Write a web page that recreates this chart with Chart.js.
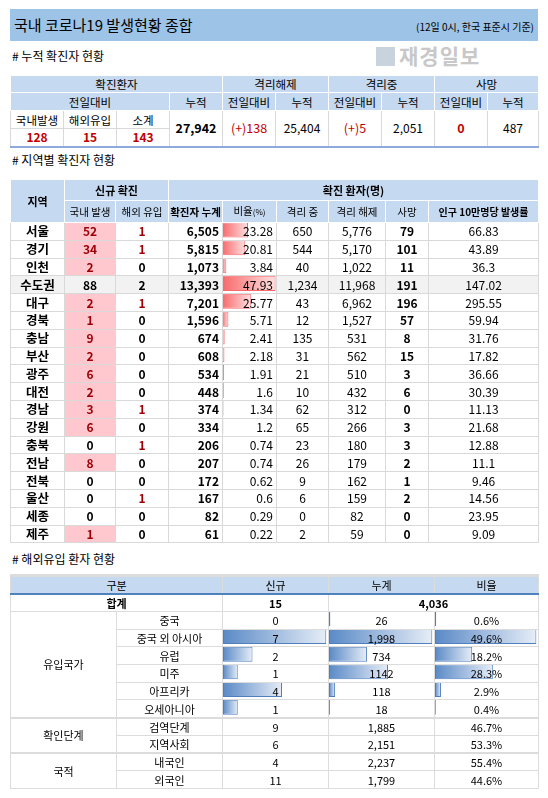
<!DOCTYPE html>
<html>
<head>
<meta charset="utf-8">
<script src="https://cdn.jsdelivr.net/npm/chart.js@4"></script>
<style>
  body { margin: 0; background: #fff; font-family: "Noto Sans CJK KR", sans-serif; color: #000; }
  #page { position: relative; width: 548px; height: 798px; overflow: hidden; }
  .abs { position: absolute; }
  .title { left: 10px; top: 9px; width: 528px; height: 32px; background: #9dc3e6; }
  .title .main { position: absolute; left: 4px; top: 5px; font-size: 15px; }
  .title .sub { position: absolute; right: 4px; top: 10px; font-size: 10px; }
  .mark { left: 376px; top: 40px; font-size: 21px; font-weight: bold; color: #c8c8c8; letter-spacing: 1px; }
  .mark span { display: inline-block; width: 19px; height: 19px; background: #c9d3de; margin-right: 4px; vertical-align: -2px; }
  .sec { left: 12px; font-size: 12px; }
  table { border-collapse: collapse; table-layout: fixed; position: absolute; font-size: 11.5px; }
  td { padding: 0; text-align: center; white-space: nowrap; overflow: hidden; border: 1px solid #d9d9d9; line-height: 14px; }
  .hd td { background: #c5d9f1; border-color: #fff; }
  .b { font-weight: bold; }
  .red { color: #c00000; }
  .dred { color: #9c0006; }
  .pink { background: #ffc7ce; }
  .r { text-align: right; padding-right: 3px; }
  .tbar { border-top: 3px solid #4f81bd; }
  .bbar { border-bottom: 2px solid #8eaadb; }
  .cv { position: absolute; }
  .gray td { background: #f2f2f2; }
  #t2 td.tr, #t3 td.tr { background: transparent; }
  #t2 { font-size: 12px; }
  #t3 { font-size: 11px; }
  #t3 td { border-color: #dcdcdc; }
  .grp td { border-top: 2px solid #a6a6a6; }
</style>
</head>
<body>
<div id="page">
  <div class="abs title"><div class="main">국내 코로나19 발생현황 종합</div><div class="sub">(12일 0시, 한국 표준시 기준)</div></div>
  <div class="abs mark"><span></span>재경일보</div>
  <div class="abs sec" style="top:47px"># 누적 확진자 현황</div>
  <table id="t1" style="left:10px; top:73px; width:528px;"></table>
  <div class="abs sec" style="top:151px"># 지역별 확진자 현황</div>
  <div class="cv" style="left:222px; top:221px; width:54px; height:321px;"><canvas id="cRatio"></canvas></div>
  <table id="t2" style="left:10px; top:177px; width:528px;"></table>
  <div class="abs sec" style="top:550px"># 해외유입 환자 현황</div>
  <div class="cv" style="left:223px; top:610px; width:104px; height:106px;"><canvas id="cNew"></canvas></div>
  <div class="cv" style="left:329px; top:610px; width:104px; height:106px;"><canvas id="cCum"></canvas></div>
  <div class="cv" style="left:435px; top:610px; width:103px; height:106px;"><canvas id="cPct"></canvas></div>
  <table id="t3" style="left:10px; top:574px; width:528px;"></table>
</div>
<script>
// 누적 확진자 현황
const dailyDomestic = 128, dailyImported = 15, dailySubtotal = 143;
const totalConfirmed = "27,942";
const releasedDelta = "(+)138", releasedTotal = "25,404";
const isolatedDelta = "(+)5", isolatedTotal = "2,051";
const deathDelta = "0", deathTotal = "487";

// 지역별 확진자 현황
const regions = ["서울", "경기", "인천", "수도권", "대구", "경북", "충남", "부산", "광주", "대전", "경남", "강원", "충북", "전남", "전북", "울산", "세종", "제주"];
const newDomestic = [52, 34, 2, 88, 2, 1, 9, 2, 6, 2, 3, 6, 0, 8, 0, 0, 0, 1];
const newImported = [1, 1, 0, 2, 1, 0, 0, 0, 0, 0, 1, 0, 1, 0, 0, 1, 0, 0];
const cumulative = ["6,505", "5,815", "1,073", "13,393", "7,201", "1,596", "674", "608", "534", "448", "374", "334", "206", "207", "172", "167", "82", "61"];
const ratioPct = [23.28, 20.81, 3.84, 47.93, 25.77, 5.71, 2.41, 2.18, 1.91, 1.6, 1.34, 1.2, 0.74, 0.74, 0.62, 0.6, 0.29, 0.22];
const isolating = ["650", "544", "40", "1,234", "43", "12", "135", "31", "21", "10", "62", "65", "23", "26", "9", "6", "0", "2"];
const released = ["5,776", "5,170", "1,022", "11,968", "6,962", "1,527", "531", "562", "510", "432", "312", "266", "180", "179", "162", "159", "82", "59"];
const deaths = [79, 101, 11, 191, 196, 57, 8, 15, 3, 6, 0, 3, 3, 2, 1, 2, 0, 0];
const per100k = ["66.83", "43.89", "36.3", "147.02", "295.55", "59.94", "31.76", "17.82", "36.66", "30.39", "11.13", "21.68", "12.88", "11.1", "9.46", "14.56", "23.95", "9.09"];

// 해외유입 환자 현황
const originLabels = ["중국", "중국 외 아시아", "유럽", "미주", "아프리카", "오세아니아"];
const originNew = [0, 7, 2, 1, 4, 1];
const originCum = ["26", "1,998", "734", "1142", "118", "18"];
const originCumValues = [26, 1998, 734, 1142, 118, 18];
const originPct = [0.6, 49.6, 18.2, 28.3, 2.9, 0.4];
const stageLabels = ["검역단계", "지역사회"];
const stageNew = [9, 6];
const stageCum = ["1,885", "2,151"];
const stagePct = ["46.7%", "53.3%"];
const nationLabels = ["내국인", "외국인"];
const nationNew = [4, 11];
const nationCum = ["2,237", "1,799"];
const nationPct = ["55.4%", "44.6%"];
const importedTotalNew = 15, importedTotalCum = "4,036";

// ---- table 1
const cols10 = '<colgroup>' + '<col style="width:53px">'.repeat(9) + '<col style="width:51px"></colgroup>';
document.getElementById("t1").innerHTML = cols10 +
  '<tr class="hd" style="height:18px"><td colspan="4" class="tbar">확진환자</td><td colspan="2" class="tbar">격리해제</td><td colspan="2" class="tbar">격리중</td><td colspan="2" class="tbar">사망</td></tr>' +
  '<tr class="hd" style="height:18px"><td colspan="3">전일대비</td><td>누적</td><td>전일대비</td><td>누적</td><td>전일대비</td><td>누적</td><td>전일대비</td><td>누적</td></tr>' +
  '<tr style="height:18px"><td>국내발생</td><td>해외유입</td><td>소계</td>' +
  '<td rowspan="2" class="b bbar" style="font-size:12.5px">' + totalConfirmed + '</td>' +
  '<td rowspan="2" class="red bbar" style="font-size:12.5px">' + releasedDelta + '</td><td rowspan="2" class="bbar" style="font-size:12px">' + releasedTotal + '</td>' +
  '<td rowspan="2" class="red bbar" style="font-size:12.5px">' + isolatedDelta + '</td><td rowspan="2" class="bbar" style="font-size:12px">' + isolatedTotal + '</td>' +
  '<td rowspan="2" class="red b bbar" style="font-size:12.5px">' + deathDelta + '</td><td rowspan="2" class="bbar" style="font-size:12px">' + deathTotal + '</td></tr>' +
  '<tr style="height:18px"><td class="red b bbar" style="font-size:12px">' + dailyDomestic + '</td><td class="red b bbar" style="font-size:12px">' + dailyImported + '</td><td class="red b bbar" style="font-size:12px">' + dailySubtotal + '</td></tr>';

// ---- table 2
let h2 = '<colgroup><col style="width:54px"><col style="width:51px"><col style="width:53px"><col style="width:54px"><col style="width:54px"><col style="width:52px"><col style="width:57px"><col style="width:43px"><col style="width:110px"></colgroup>';
h2 += '<tr class="hd" style="height:22px;font-size:11px"><td rowspan="2" class="tbar b">지역</td><td colspan="2" class="tbar b">신규 확진</td><td colspan="6" class="tbar b">확진 환자(명)</td></tr>';
h2 += '<tr class="hd" style="height:22px;font-size:10.5px"><td>국내 발생</td><td>해외 유입</td><td class="b">확진자 누계</td><td>비율<span style="font-size:8px">(%)</span></td><td>격리 중</td><td>격리 해제</td><td>사망</td><td class="b" style="font-size:10px">인구 10만명당 발생률</td></tr>';
regions.forEach((r, i) => {
  const gray = r === "수도권" ? ' class="gray" style="height:17.8px"' : ' style="height:17.8px"';
  const d = newDomestic[i], m = newImported[i];
  const dCls = (d > 0 && r !== "수도권") ? "pink dred b" : "b";
  const mCls = (m > 0 && r !== "수도권") ? "dred b" : "b";
  h2 += '<tr' + gray + '><td class="b" style="font-size:12.5px">' + r + '</td>' +
    '<td class="' + dCls + '">' + d + '</td><td class="' + mCls + '">' + m + '</td>' +
    '<td class="b r">' + cumulative[i] + '</td><td class="r tr">' + ratioPct[i] + '</td>' +
    '<td>' + isolating[i] + '</td><td>' + released[i] + '</td><td class="b">' + deaths[i] + '</td><td>' + per100k[i] + '</td></tr>';
});
document.getElementById("t2").innerHTML = h2;

// ---- table 3
let h3 = '<colgroup><col style="width:106px"><col style="width:106px"><col style="width:106px"><col style="width:106px"><col style="width:104px"></colgroup>';
h3 += '<tr class="hd" style="height:18px"><td colspan="2" class="tbar">구분</td><td class="tbar">신규</td><td class="tbar">누계</td><td class="tbar">비율</td></tr>';
h3 += '<tr style="height:18px"><td colspan="2" class="b" style="border-top:2px solid #4f81bd">합계</td><td class="b" style="border-top:2px solid #4f81bd">' + importedTotalNew + '</td><td colspan="2" class="b" style="border-top:2px solid #4f81bd">' + importedTotalCum + '</td></tr>';
originLabels.forEach((l, i) => {
  h3 += '<tr style="height:17.7px">' + (i === 0 ? '<td rowspan="6">유입국가</td>' : '') +
    '<td>' + l + '</td><td class="tr">' + originNew[i] + '</td><td class="tr">' + originCum[i] + '</td><td class="tr">' + originPct[i] + '%</td></tr>';
});
stageLabels.forEach((l, i) => {
  h3 += '<tr style="height:17.7px"' + (i === 0 ? ' class="grp"' : '') + '>' + (i === 0 ? '<td rowspan="2">확인단계</td>' : '') +
    '<td>' + l + '</td><td>' + stageNew[i] + '</td><td>' + stageCum[i] + '</td><td>' + stagePct[i] + '</td></tr>';
});
nationLabels.forEach((l, i) => {
  h3 += '<tr style="height:17.7px"' + (i === 0 ? ' class="grp"' : '') + '>' + (i === 0 ? '<td rowspan="2">국적</td>' : '') +
    '<td>' + l + '</td><td>' + nationNew[i] + '</td><td>' + nationCum[i] + '</td><td>' + nationPct[i] + '</td></tr>';
});
document.getElementById("t3").innerHTML = h3;

// ---- data bars
function barGradient(strong, light) {
  return function(ctx) {
    const chart = ctx.chart;
    const xs = chart.scales.x;
    if (!xs || !ctx.parsed) return strong;
    const x0 = xs.getPixelForValue(0);
    const x1 = xs.getPixelForValue(ctx.parsed.x);
    if (!isFinite(x0) || !isFinite(x1) || x1 - x0 < 1) return strong;
    const g = chart.ctx.createLinearGradient(x0, 0, x1, 0);
    g.addColorStop(0, strong);
    g.addColorStop(1, light);
    return g;
  };
}

function dataBars(canvasId, labels, values, max, strong, light, border, thickness) {
  const ctx = document.getElementById(canvasId).getContext("2d");
  new Chart(ctx, {
    type: "bar",
    data: {
      labels: labels,
      datasets: [{
        data: values,
        backgroundColor: barGradient(strong, light),
        borderColor: border,
        borderWidth: 1,
        borderSkipped: false,
        categoryPercentage: 1,
        barPercentage: thickness
      }]
    },
    options: {
      indexAxis: "y",
      animation: false,
      responsive: true,
      maintainAspectRatio: false,
      layout: { padding: 0 },
      plugins: { legend: { display: false }, tooltip: { enabled: false } },
      scales: {
        x: { display: false, min: 0, max: max },
        y: { display: false }
      }
    }
  });
}

dataBars("cRatio", regions, ratioPct, 48.3, "#f8696b", "#fde0e0", "#f8696b", 0.85);
dataBars("cNew", originLabels, originNew, 7.05, "#5a8ac6", "#e6edf7", "#4f7fbf", 0.85);
dataBars("cCum", originLabels, originCumValues, 2012, "#5a8ac6", "#e6edf7", "#4f7fbf", 0.85);
dataBars("cPct", originLabels, originPct, 50.4, "#5a8ac6", "#e6edf7", "#4f7fbf", 0.85);
</script>
</body>
</html>
